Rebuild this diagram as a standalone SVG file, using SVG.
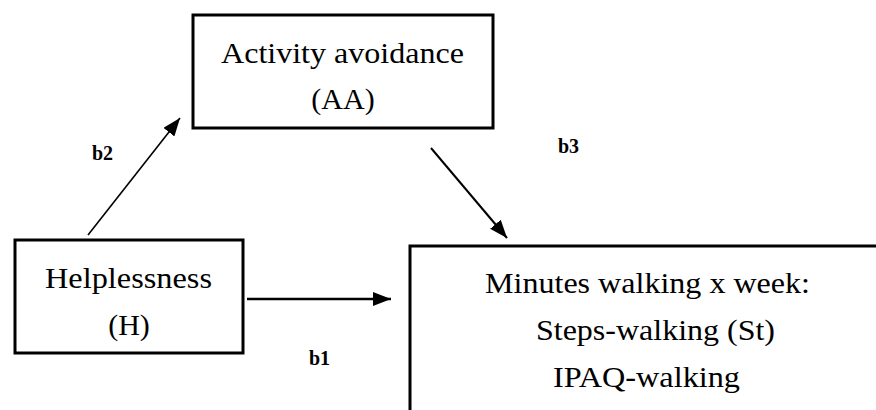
<svg xmlns="http://www.w3.org/2000/svg" width="876" height="410" viewBox="0 0 876 410">
  <style>
    .box { fill: #ffffff; stroke: #000000; stroke-width: 3; }
    .t { font-family: "Liberation Serif", "Times New Roman", serif; font-size: 30px; fill: #000000; }
    .lbl { font-family: "Liberation Serif", "Times New Roman", serif; font-size: 20px; font-weight: bold; fill: #000000; }
    .conn { stroke: #000000; fill: none; }
  </style>
  <defs>
    <marker id="arrow" markerUnits="userSpaceOnUse" markerWidth="18" markerHeight="14" refX="18" refY="7" orient="auto">
      <path d="M0,0 L18,7 L0,14 z" fill="#000000"/>
    </marker>
  </defs>
  <rect width="876" height="410" fill="#ffffff"/>

  <g id="node-AA">
    <rect class="box" x="193" y="15" width="300" height="113"/>
    <text class="t" x="221" y="63" textLength="243" lengthAdjust="spacingAndGlyphs">Activity avoidance</text>
    <text class="t" x="343" y="109" text-anchor="middle">(AA)</text>
  </g>

  <g id="node-H">
    <rect class="box" x="15" y="240" width="228" height="113"/>
    <text class="t" x="45" y="288" textLength="167" lengthAdjust="spacingAndGlyphs">Helplessness</text>
    <text class="t" x="129" y="335" text-anchor="middle">(H)</text>
  </g>

  <g id="node-MW">
    <rect class="box" x="410" y="246" width="500" height="200"/>
    <text class="t" x="485" y="293" textLength="325" lengthAdjust="spacingAndGlyphs">Minutes walking x week:</text>
    <text class="t" x="536" y="340" textLength="239" lengthAdjust="spacingAndGlyphs">Steps-walking (St)</text>
    <text class="t" x="553" y="387" textLength="187" lengthAdjust="spacingAndGlyphs">IPAQ-walking</text>
  </g>

  <g id="connectors">
    <line class="conn" x1="88" y1="235" x2="180" y2="118" stroke-width="1.6" marker-end="url(#arrow)"/>
    <line class="conn" x1="431" y1="148" x2="507" y2="238" stroke-width="2" marker-end="url(#arrow)"/>
    <line class="conn" x1="247" y1="299" x2="391" y2="299" stroke-width="2.5" marker-end="url(#arrow)"/>
  </g>

  <g id="labels">
    <text class="lbl" x="92" y="160">b2</text>
    <text class="lbl" x="558" y="153">b3</text>
    <text class="lbl" x="309" y="365">b1</text>
  </g>
</svg>
